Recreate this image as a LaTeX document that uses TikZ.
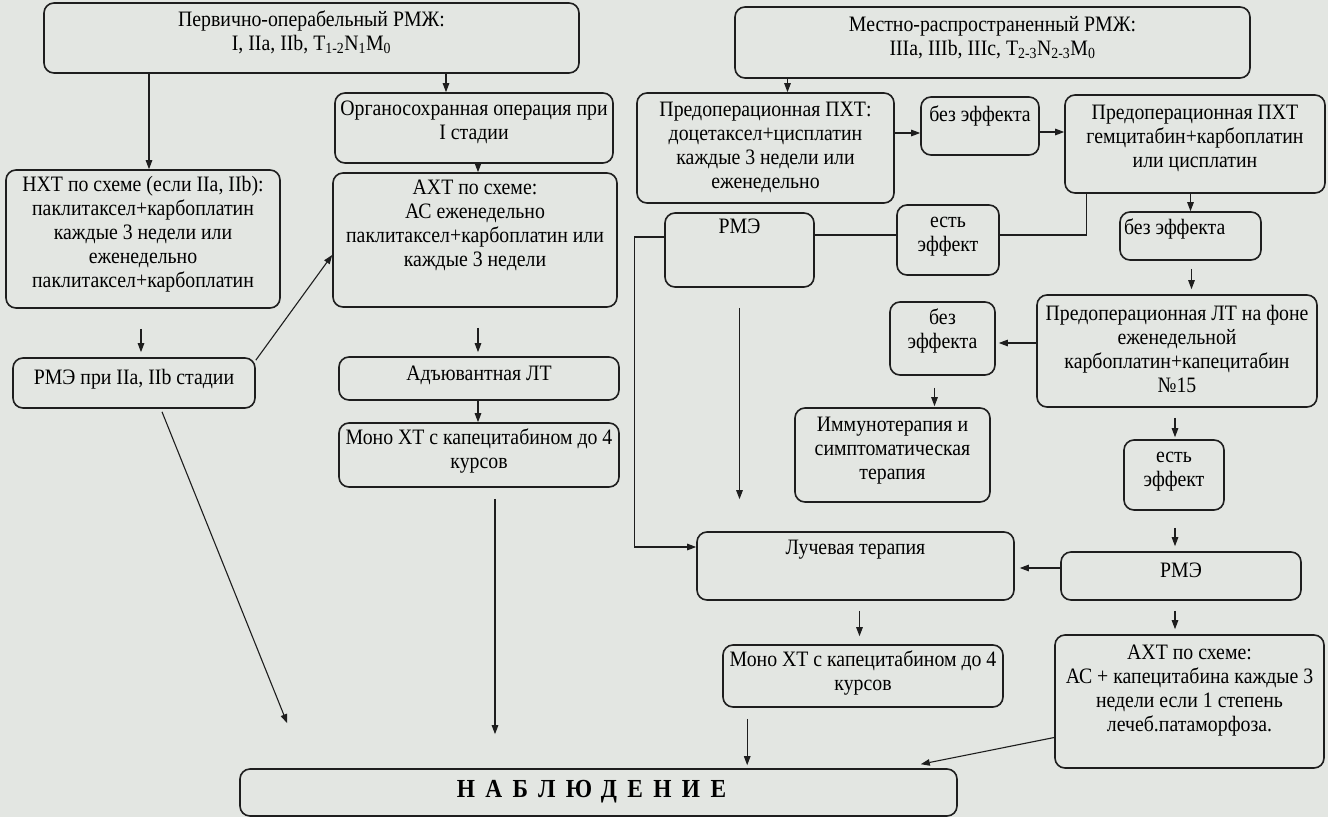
\documentclass[tikz,border=0pt]{standalone}
\usepackage{fontspec}
\setmainfont{Liberation Serif}[FakeStretch=0.9]
\usetikzlibrary{arrows.meta,calc}
\definecolor{bg}{RGB}{227,230,226}
\definecolor{ink}{RGB}{30,30,30}
\newcommand\bx[4]{\parbox[c][#2pt][t]{#1pt}{\centering\vspace*{#3pt}\strut #4\par}}
\begin{document}
\begin{tikzpicture}[x=1pt,y=-1pt,
  box/.style={draw=ink, line width=1.6pt, rounded corners=10pt, inner sep=0pt, font=\fontsize{22}{24}\selectfont},
  arr/.style={draw=ink, line width=1.1pt, -{Triangle[length=9pt,width=6.5pt]}},
  ln/.style={draw=ink, line width=1.1pt}]
\fill[bg] (0,0) rectangle (1328,817);
\useasboundingbox (0,0) rectangle (1328,817);

\node[box] (A) at (311.5,38) {\bx{535}{70}{7}{Первично-операбельный РМЖ:\\ I, IIa, IIb, T\textsubscript{1-2}N\textsubscript{1}M\textsubscript{0}}};
\node[box] (B) at (474,128) {\bx{278}{70}{6}{Органосохранная операция при\\ I стадии}};
\node[box] (C) at (143,239) {\bx{274}{138}{5}{НХТ по схеме (если IIa, IIb):\\ паклитаксел+карбоплатин\\ каждые 3 недели или\\ еженедельно\\ паклитаксел+карбоплатин}};
\node[box] (D) at (475,240) {\bx{284}{134}{5}{АХТ по схеме:\\ АС еженедельно\\ паклитаксел+карбоплатин или\\ каждые 3 недели}};
\node[box] (E) at (134,383) {\bx{242}{50}{10}{РМЭ при IIa, IIb стадии}};
\node[box] (F) at (479,378.5) {\bx{280}{43}{7}{Адъювантная ЛТ}};
\node[box] (G) at (479,455) {\bx{280}{64}{5}{Моно ХТ с капецитабином до 4\\ курсов}};
\node[box] (H) at (992.5,42.5) {\bx{515}{71}{8}{Местно-распространенный РМЖ:\\ IIIa, IIIb, IIIc, T\textsubscript{2-3}N\textsubscript{2-3}M\textsubscript{0}}};
\node[box] (I) at (765.5,148) {\bx{257}{110}{7}{Предоперационная ПХТ:\\ доцетаксел+цисплатин\\ каждые 3 недели или\\ еженедельно}};
\node[box] (J) at (980,126) {\bx{118}{58}{8}{без эффекта}};
\node[box] (K) at (1195,144) {\bx{260}{98}{8}{Предоперационная ПХТ\\ гемцитабин+карбоплатин\\ или цисплатин}};
\node[box] (L) at (739.5,250) {\bx{149}{74}{4}{РМЭ}};
\node[box] (M) at (948,240) {\bx{102}{70}{6}{есть\\ эффект}};
\node[box] (N) at (1190.5,236) {\parbox[c][48pt][t]{141pt}{\raggedright\vspace*{6pt}\strut\hspace*{4pt}без эффекта\par}};
\node[box] (O) at (1177,351) {\bx{280}{112}{9}{Предоперационная ЛТ на фоне\\ еженедельной\\ карбоплатин+капецитабин\\ №15}};
\node[box] (P) at (942.5,338.5) {\bx{105}{73}{6}{без\\ эффекта}};
\node[box] (Q) at (892.5,455) {\bx{195}{94}{7}{Иммунотерапия и\\ симптоматическая\\ терапия}};
\node[box] (R) at (1174,475) {\bx{100}{70}{6}{есть\\ эффект}};
\node[box] (S) at (855.5,566) {\bx{317}{68}{6}{Лучевая терапия}};
\node[box] (T) at (1181,576) {\bx{240}{48}{9}{РМЭ}};
\node[box] (U) at (863,676) {\bx{280}{62}{5}{Моно ХТ с капецитабином до 4\\ курсов}};
\node[box] (V) at (1189.5,701.5) {\bx{269}{133}{8}{АХТ по схеме:\\ АС + капецитабина каждые 3\\ недели если 1 степень\\ лечеб.патаморфоза.}};
\node[box, font=\fontsize{26}{29}\selectfont] (W) at (598.5,792.5) {\bx{717}{47}{8}{\hspace*{-14pt}\bfseries\addfontfeature{LetterSpace=40}НАБЛЮДЕНИЕ}};

\draw[arr] ($(C.north |- A.south)+(6,0)$) -- ($(C.north)+(6,0)$);
\draw[arr] ($(B.north |- A.south)+(-28,0)$) -- ($(B.north)+(-28,0)$);
\draw[arr] ($(B.south)+(4,0)$) -- ($(B.south |- D.north)+(4,0)$);
\draw[arr] ($(C.south)+(-2,20)$) -- ($(C.south |- E.north)+(-2,-5)$);
\draw[arr] ($(E.north east)+(0,3)$) -- ($(D.west)+(0,15)$);
\draw[arr] ($(E.south)+(28,3)$) -- ($(W.north west)+(48,-45)$);
\draw[arr] ($(F.north |- D.south)+(-1,20)$) -- ($(F.north)+(-1,-4)$);
\draw[arr] ($(F.south)+(-1,0)$) -- ($(F.south |- G.north)+(-1,0)$);
\draw[arr] ($(G.south)+(16,11)$) -- ($(G.south |- W.north)+(16,-34)$);
\draw[arr] ($(I.north |- H.south)+(22,0)$) -- ($(I.north)+(22,0)$);
\draw[arr] ($(I.east)+(0,-15)$) -- ($(J.west)+(0,7)$);
\draw[arr] ($(J.east)+(0,6)$) -- ($(K.west)+(0,-12)$);
\draw[arr] (N.north |- K.south) -- (N.north);
\draw[ln] ($(K.south west)+(22,0)$) |- ($(M.east)+(0,-5)$);
\draw[ln] ($(M.west)+(0,-5)$) -- ($(L.east)+(0,-15)$);
\draw[arr] ($(L.west)+(0,-13)$) -- ++(-30,0) |- ($(S.west)+(0,-19)$);
\draw[arr] ($(L.south)+(0,20)$) -- ($(L.south |- S.north)+(0,-32)$);
\draw[arr] ($(N.south)+(1,8)$) -- ($(N.south |- O.north)+(1,-5)$);
\draw[arr] ($(O.west)+(0,-8)$) -- ($(O.west -| P.east)+(3,-8)$);
\draw[arr] ($(P.south)+(-8,12)$) -- ($(P.south |- Q.north)+(-8,-1)$);
\draw[arr] ($(R.north |- O.south)+(1,10)$) -- ($(R.north)+(1,-2)$);
\draw[arr] ($(R.south)+(1,17)$) -- ($(R.south |- T.north)+(1,-5)$);
\draw[arr] ($(T.west)+(0,-8)$) -- ($(S.east)+(5,2)$);
\draw[arr] ($(S.south)+(4,10)$) -- ($(S.south |- U.north)+(4,-8)$);
\draw[arr] ($(T.south)+(-6,10)$) -- ($(T.south |- V.north)+(-6,-5)$);
\draw[arr] ($(U.south west)+(25,11)$) -- ($(U.south west |- W.north)+(25,-3)$);
\draw[arr] ($(V.west)+(0,36)$) -- ($(W.north east)+(-37,-4)$);
\end{tikzpicture}
\end{document}
